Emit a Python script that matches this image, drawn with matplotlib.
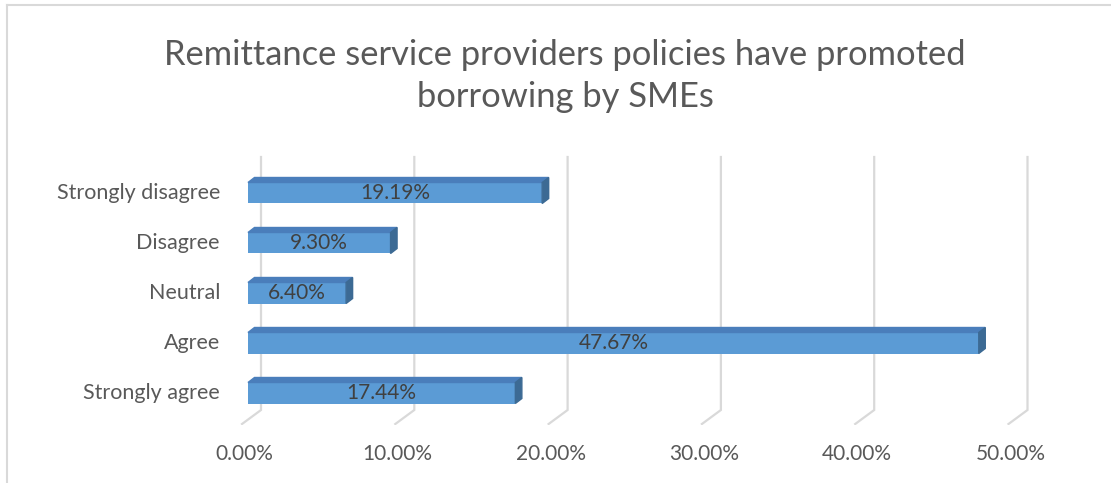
import matplotlib.pyplot as plt
from matplotlib.patches import Polygon

# Survey responses (bottom to top as drawn)
categories = ['Strongly agree', 'Agree', 'Neutral', 'Disagree', 'Strongly disagree']
shares = [17.44, 47.67, 6.40, 9.30, 19.19]
ticks = [0, 10, 20, 30, 40, 50]

plt.rcParams['font.family'] = ['Lato', 'DejaVu Sans']
text_color = '#595959'

fig = plt.figure(figsize=(11.11, 4.83), dpi=100)

# chart frame (top and left edges only)
fig.add_artist(plt.Line2D([7 / 1111, 1], [1 - 5 / 483, 1 - 5 / 483], color='#d9d9d9', lw=1.5))
fig.add_artist(plt.Line2D([7 / 1111, 7 / 1111], [0, 1 - 5 / 483], color='#d9d9d9', lw=1.5))

ax = fig.add_axes([230 / 1111, 58 / 483, 810 / 1111, 275 / 483])
px = 15.33  # pixels per percent
ax.set_xlim(-18 / px, 810 / px - 18 / px)
ax.set_ylim(-0.64, 4.86)
ax.axis('off')

# depth direction of the 3-D box (percent, category units)
ddx, ddy = 19 / px, 14 / 50

# back wall gridlines plus floor diagonals
for t in ticks:
    bx = t + 13 / px
    ax.plot([bx, bx, bx - ddx], [4.72, -0.34, -0.34 - ddy], color='#d9d9d9', lw=1.6,
            solid_joinstyle='miter', zorder=1)
    ax.text(t - 4 / px, -1.22, f'{t:.2f}%', ha='center', va='center',
            fontsize=15, color=text_color)

h = 0.42
bdx, bdy = 6.5 / px, 0.10
for i, (cat, v) in enumerate(zip(categories, shares)):
    y0, y1 = i - h / 2, i + h / 2
    ax.barh(i, v, height=h, color='#5b9bd5', zorder=3)
    top = Polygon([(0, y1), (v, y1), (v + bdx, y1 + bdy), (bdx, y1 + bdy)],
                  closed=True, color='#4a7ebb', zorder=3)
    side = Polygon([(v, y0), (v + bdx, y0 + bdy), (v + bdx, y1 + bdy), (v, y1)],
                   closed=True, color='#3c6a94', zorder=3)
    ax.add_patch(top)
    ax.add_patch(side)
    ax.text(v / 2, i, f'{v:.2f}%', ha='center', va='center', fontsize=15,
            color='#404040', zorder=4)
    ax.text(-28 / px, i, cat, ha='right', va='center', fontsize=15.5, color=text_color)

fig.text(565 / 1111, 1 - 76 / 483,
         'Remittance service providers policies have promoted\nborrowing by SMEs',
         ha='center', va='center', fontsize=24.8, color=text_color, linespacing=1.4)

fig.savefig('out.png', dpi=100)
